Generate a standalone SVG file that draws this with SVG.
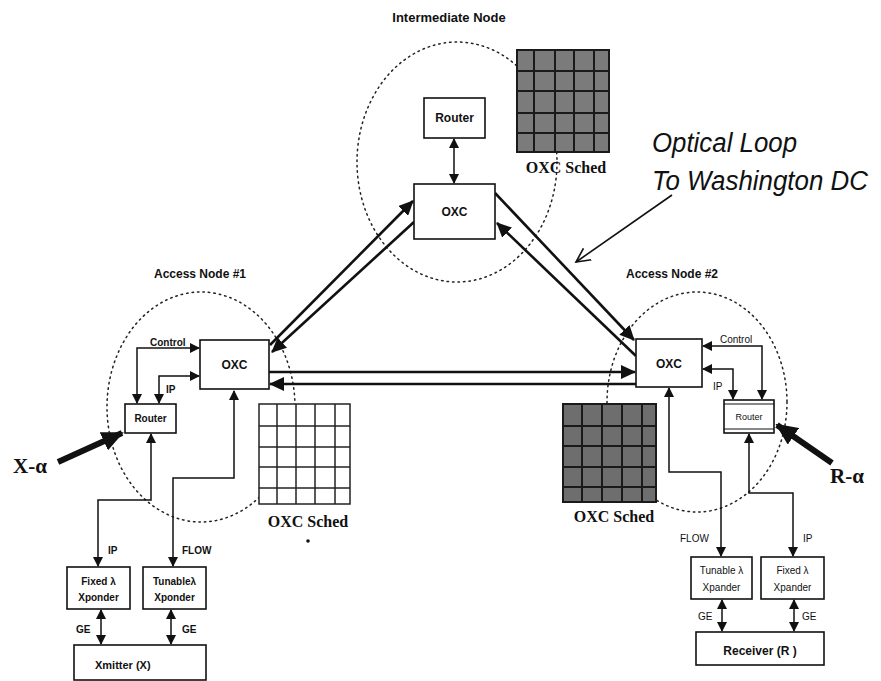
<svg xmlns="http://www.w3.org/2000/svg" width="881" height="681" viewBox="0 0 881 681">
<style>
.bx{fill:#fff;stroke:#111;stroke-width:1.6}
.lb{font-family:"Liberation Sans",Arial,sans-serif;font-weight:bold;fill:#111}
.lt{font-family:"Liberation Sans",Arial,sans-serif;fill:#111}
.sr{font-family:"Liberation Serif","Times New Roman",serif;font-weight:bold;fill:#111}
.dot{fill:none;stroke:#222;stroke-width:1.5;stroke-dasharray:1.5,4;stroke-linecap:round}
.lk{fill:none;stroke:#111;stroke-width:2.6}
.cn{fill:none;stroke:#111;stroke-width:1.5}
.big{fill:none;stroke:#111;stroke-width:6}
.gl{stroke:#1a1a1a;stroke-width:2}
.gw{stroke:#222;stroke-width:1.5}
</style>
<defs>
<marker id="ah" markerUnits="userSpaceOnUse" markerWidth="16" markerHeight="14" refX="14" refY="7" orient="auto"><path d="M0,0 L15,7 L0,14 z" fill="#111"/></marker>
<marker id="sa" markerUnits="userSpaceOnUse" markerWidth="10" markerHeight="10" refX="9" refY="5" orient="auto-start-reverse"><path d="M0,0 L10,5 L0,10 z" fill="#111"/></marker>
<marker id="ba" markerUnits="userSpaceOnUse" markerWidth="22" markerHeight="20" refX="20" refY="10" orient="auto"><path d="M0,0 L22,10 L0,20 z" fill="#111"/></marker>
<marker id="va" markerUnits="userSpaceOnUse" markerWidth="16" markerHeight="16" refX="14" refY="8" orient="auto"><path d="M0,1 L14,8 L0,15" fill="none" stroke="#111" stroke-width="1.6"/></marker>
</defs>

<!-- dotted node boundaries -->
<g id="boundaries">
<ellipse class="dot" cx="457" cy="162" rx="100" ry="120"/>
<ellipse class="dot" cx="201" cy="407" rx="94" ry="115"/>
<ellipse class="dot" cx="697" cy="402" rx="90" ry="110"/>
</g>

<text class="lb" x="449" y="22" font-size="13" text-anchor="middle">Intermediate Node</text>
<text class="lb" x="200" y="278" font-size="12" text-anchor="middle">Access Node #1</text>
<text class="lb" x="672" y="278" font-size="12" text-anchor="middle">Access Node #2</text>

<!-- connectors -->
<g id="connectors">
<line class="lk" x1="270" y1="345" x2="413" y2="201" marker-end="url(#ah)"/>
<line class="lk" x1="414" y1="222" x2="272" y2="352" marker-end="url(#ah)"/>
<line class="lk" x1="495" y1="193" x2="634" y2="340" marker-end="url(#ah)"/>
<line class="lk" x1="636" y1="356" x2="497" y2="223" marker-end="url(#ah)"/>
<line class="lk" x1="269" y1="372" x2="635" y2="372" marker-end="url(#ah)"/>
<line class="lk" x1="636" y1="384" x2="270" y2="384" marker-end="url(#ah)"/>
<line class="cn" x1="454" y1="139" x2="454" y2="183" marker-start="url(#sa)" marker-end="url(#sa)"/>
<!-- access node 1 -->
<polyline class="cn" points="137,403 137,348 199,348" marker-start="url(#sa)" marker-end="url(#sa)"/>
<polyline class="cn" points="159,403 159,376 199,376" marker-start="url(#sa)" marker-end="url(#sa)"/>
<polyline class="cn" points="151,434 151,500 98,500 98,566" marker-start="url(#sa)" marker-end="url(#sa)"/>
<polyline class="cn" points="234,391 234,478 173,478 173,566" marker-start="url(#sa)" marker-end="url(#sa)"/>
<line class="cn" x1="101" y1="610" x2="101" y2="644" marker-start="url(#sa)" marker-end="url(#sa)"/>
<line class="cn" x1="171" y1="610" x2="171" y2="644" marker-start="url(#sa)" marker-end="url(#sa)"/>
<!-- access node 2 -->
<polyline class="cn" points="762,399 762,346 703,346" marker-start="url(#sa)" marker-end="url(#sa)"/>
<polyline class="cn" points="733,399 733,369 703,369" marker-start="url(#sa)" marker-end="url(#sa)"/>
<polyline class="cn" points="669,388 669,472 721,472 721,556" marker-start="url(#sa)" marker-end="url(#sa)"/>
<polyline class="cn" points="749,434 749,493 793,493 793,556" marker-start="url(#sa)" marker-end="url(#sa)"/>
<line class="cn" x1="722" y1="600" x2="722" y2="631" marker-start="url(#sa)" marker-end="url(#sa)"/>
<line class="cn" x1="794" y1="600" x2="794" y2="631" marker-start="url(#sa)" marker-end="url(#sa)"/>
<!-- inputs -->
<line class="big" x1="58" y1="462" x2="122" y2="433" marker-end="url(#ba)"/>
<line class="big" x1="832" y1="463" x2="777" y2="425" marker-end="url(#ba)"/>
<line stroke="#111" stroke-width="1.6" x1="672" y1="195" x2="576" y2="262" marker-end="url(#va)"/>
</g>

<text class="lb" x="150" y="346" font-size="10">Control</text>
<text class="lb" x="166" y="393" font-size="10">IP</text>
<text class="lt" x="720" y="343" font-size="10">Control</text>
<text class="lt" x="713" y="390" font-size="10">IP</text>
<text class="lb" x="108" y="554" font-size="10">IP</text>
<text class="lb" x="182" y="554" font-size="10">FLOW</text>
<text class="lb" x="76" y="633" font-size="10">GE</text>
<text class="lb" x="182" y="633" font-size="10">GE</text>
<text class="lt" x="680" y="542" font-size="10">FLOW</text>
<text class="lt" x="803" y="542" font-size="10">IP</text>
<text class="lt" x="698" y="620" font-size="10">GE</text>
<text class="lt" x="802" y="620" font-size="10">GE</text>

<!-- intermediate node -->
<g id="router-int"><rect class="bx" x="424" y="98" width="61" height="40"/><text class="lb" x="454.5" y="122" font-size="12" text-anchor="middle">Router</text></g>
<g id="oxc-int"><rect class="bx" x="414" y="184" width="81" height="55"/><text class="lb" x="454.5" y="216" font-size="12" text-anchor="middle">OXC</text></g>
<g id="sched-int">
<rect x="517" y="50" width="92" height="102" fill="#7b7b7b" stroke="#1a1a1a" stroke-width="2"/>
<line class="gl" x1="534" y1="50" x2="534" y2="152"/><line class="gl" x1="555" y1="50" x2="555" y2="152"/><line class="gl" x1="574" y1="50" x2="574" y2="152"/><line class="gl" x1="594" y1="50" x2="594" y2="152"/>
<line class="gl" x1="517" y1="71" x2="609" y2="71"/><line class="gl" x1="517" y1="91" x2="609" y2="91"/><line class="gl" x1="517" y1="113" x2="609" y2="113"/><line class="gl" x1="517" y1="133" x2="609" y2="133"/>
<text class="sr" x="566" y="173" font-size="16" text-anchor="middle">OXC Sched</text>
</g>

<!-- access node 1 -->
<g id="oxc-1"><rect class="bx" x="200" y="340" width="69" height="49"/><text class="lb" x="234.5" y="369" font-size="12" text-anchor="middle">OXC</text></g>
<g id="router-1"><rect class="bx" x="125" y="404" width="51" height="29"/><text class="lb" x="150.5" y="422" font-size="10" text-anchor="middle">Router</text></g>
<g id="sched-1">
<rect x="259" y="404" width="91" height="100" fill="#fff" stroke="#222" stroke-width="1.5"/>
<line class="gw" x1="277" y1="404" x2="277" y2="504"/><line class="gw" x1="296" y1="404" x2="296" y2="504"/><line class="gw" x1="315" y1="404" x2="315" y2="504"/><line class="gw" x1="335" y1="404" x2="335" y2="504"/>
<line class="gw" x1="259" y1="426" x2="350" y2="426"/><line class="gw" x1="259" y1="447" x2="350" y2="447"/><line class="gw" x1="259" y1="467" x2="350" y2="467"/><line class="gw" x1="259" y1="488" x2="350" y2="488"/>
<text class="sr" x="308" y="527" font-size="16" text-anchor="middle">OXC Sched</text>
<circle cx="308" cy="541" r="1.8" fill="#111"/>
</g>
<g id="fixed-1"><rect class="bx" x="67" y="567" width="63" height="42"/><text class="lb" x="98.5" y="585" font-size="10" text-anchor="middle">Fixed λ</text><text class="lb" x="98.5" y="601" font-size="10" text-anchor="middle">Xponder</text></g>
<g id="tunable-1"><rect class="bx" x="143" y="567" width="63" height="42"/><text class="lb" x="174.5" y="585" font-size="10" text-anchor="middle">Tunableλ</text><text class="lb" x="174.5" y="601" font-size="10" text-anchor="middle">Xponder</text></g>
<g id="xmitter"><rect class="bx" x="74" y="645" width="132" height="35"/><text class="lb" x="95" y="669" font-size="11">Xmitter (X)</text></g>
<text class="sr" x="13" y="473" font-size="21">X-α</text>

<!-- access node 2 -->
<g id="oxc-2"><rect class="bx" x="636" y="339" width="66" height="48"/><text class="lb" x="669" y="368" font-size="12" text-anchor="middle">OXC</text></g>
<g id="router-2"><rect class="bx" x="724" y="400" width="50" height="33"/><line stroke="#111" stroke-width="1" x1="724" y1="404" x2="774" y2="404"/><line stroke="#111" stroke-width="1" x1="724" y1="429" x2="774" y2="429"/><text class="lt" x="749" y="420" font-size="9" text-anchor="middle">Router</text></g>
<g id="sched-2">
<rect x="563" y="404" width="93" height="98" fill="#6e6e6e" stroke="#1a1a1a" stroke-width="2"/>
<line class="gl" x1="582" y1="404" x2="582" y2="502"/><line class="gl" x1="602" y1="404" x2="602" y2="502"/><line class="gl" x1="622" y1="404" x2="622" y2="502"/><line class="gl" x1="642" y1="404" x2="642" y2="502"/>
<line class="gl" x1="563" y1="426" x2="656" y2="426"/><line class="gl" x1="563" y1="446" x2="656" y2="446"/><line class="gl" x1="563" y1="467" x2="656" y2="467"/><line class="gl" x1="563" y1="487" x2="656" y2="487"/>
<text class="sr" x="614" y="522" font-size="16" text-anchor="middle">OXC Sched</text>
</g>
<g id="tunable-2"><rect class="bx" x="691" y="557" width="61" height="42"/><text class="lt" x="721.5" y="574" font-size="10" text-anchor="middle">Tunable  λ</text><text class="lt" x="721.5" y="591" font-size="10" text-anchor="middle">Xpander</text></g>
<g id="fixed-2"><rect class="bx" x="761" y="557" width="63" height="42"/><text class="lt" x="792.5" y="574" font-size="10" text-anchor="middle">Fixed  λ</text><text class="lt" x="792.5" y="591" font-size="10" text-anchor="middle">Xpander</text></g>
<g id="receiver"><rect class="bx" x="696" y="632" width="128" height="33"/><text class="lb" x="760" y="655" font-size="12" text-anchor="middle">Receiver (R )</text></g>
<text class="sr" x="830" y="483" font-size="21">R-α</text>

<text class="lt" x="652" y="152" font-size="27" font-style="italic" textLength="145" lengthAdjust="spacingAndGlyphs">Optical Loop</text>
<text class="lt" x="652" y="190" font-size="27" font-style="italic" textLength="216" lengthAdjust="spacingAndGlyphs">To Washington DC</text>
</svg>
